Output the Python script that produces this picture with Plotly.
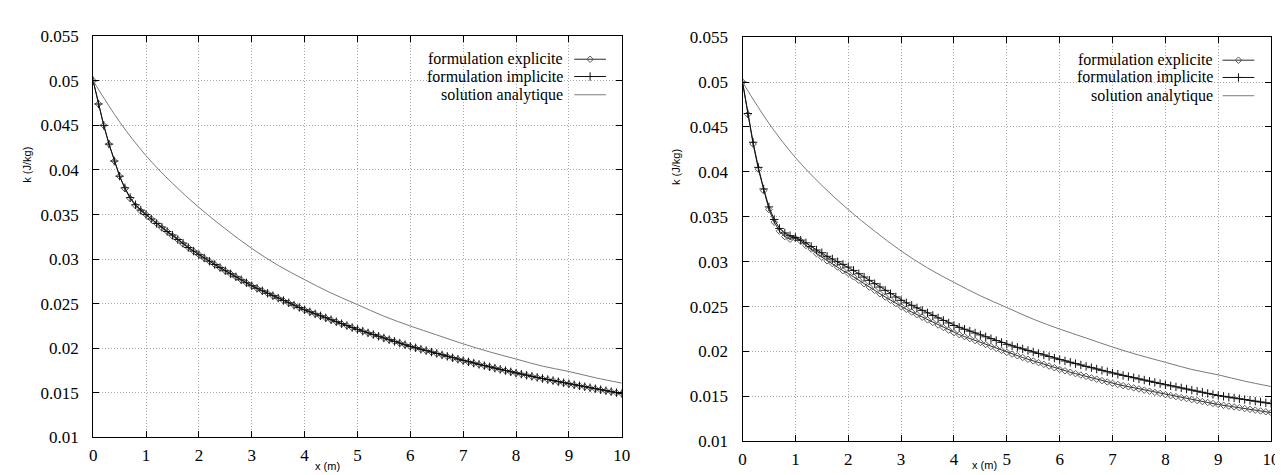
import plotly.graph_objects as go

# ---------------- data ----------------
x_num = [i / 10 for i in range(101)]
x_ana = [i / 2 for i in range(21)]

left_explicit = [
    0.0500, 0.0474, 0.0450, 0.0429, 0.0410, 0.0393, 0.0379, 0.0368, 0.0360, 0.0354,
    0.0350, 0.0345, 0.0340, 0.0335, 0.0331, 0.0326, 0.0322, 0.0317, 0.0313, 0.0309,
    0.0305, 0.03012, 0.02975, 0.02939, 0.02904, 0.02869, 0.02835, 0.02801, 0.02767, 0.02734,
    0.02700, 0.02671, 0.02643, 0.02615, 0.02588, 0.02561, 0.02534, 0.02508, 0.02482, 0.02456,
    0.02430, 0.02407, 0.02384, 0.02362, 0.02340, 0.02318, 0.02296, 0.02274, 0.02253, 0.02231,
    0.02210, 0.02190, 0.02171, 0.02152, 0.02133, 0.02114, 0.02095, 0.02076, 0.02057, 0.02038,
    0.02020, 0.02004, 0.01988, 0.01972, 0.01956, 0.01940, 0.01924, 0.01908, 0.01892, 0.01876,
    0.01860, 0.01846, 0.01832, 0.01818, 0.01804, 0.01790, 0.01776, 0.01762, 0.01748, 0.01734,
    0.01720, 0.01708, 0.01696, 0.01684, 0.01672, 0.01660, 0.01648, 0.01636, 0.01624, 0.01612,
    0.01600, 0.01589, 0.01578, 0.01567, 0.01556, 0.01545, 0.01534, 0.01523, 0.01512, 0.01501,
    0.01490]

left_implicit = [
    0.0500, 0.0474, 0.0450, 0.0429, 0.0410, 0.0393, 0.0380, 0.0369, 0.0361, 0.0355,
    0.0350, 0.0345, 0.0340, 0.0336, 0.0331, 0.0327, 0.0322, 0.0318, 0.0313, 0.0309,
    0.0305, 0.03013, 0.02976, 0.02940, 0.02905, 0.02870, 0.02836, 0.02802, 0.02768, 0.02735,
    0.02702, 0.02673, 0.02645, 0.02617, 0.02590, 0.02563, 0.02536, 0.02510, 0.02484, 0.02458,
    0.02432, 0.02409, 0.02386, 0.02364, 0.02342, 0.02320, 0.02298, 0.02276, 0.02255, 0.02233,
    0.02212, 0.02192, 0.02173, 0.02154, 0.02135, 0.02116, 0.02097, 0.02078, 0.02059, 0.02040,
    0.02022, 0.02006, 0.01990, 0.01974, 0.01958, 0.01942, 0.01926, 0.01910, 0.01894, 0.01878,
    0.01862, 0.01848, 0.01834, 0.01820, 0.01806, 0.01792, 0.01778, 0.01764, 0.01750, 0.01736,
    0.01722, 0.01710, 0.01698, 0.01686, 0.01674, 0.01662, 0.01650, 0.01638, 0.01626, 0.01614,
    0.01602, 0.01591, 0.01580, 0.01569, 0.01558, 0.01547, 0.01536, 0.01525, 0.01514, 0.01503,
    0.01492]

right_explicit = [
    0.0500, 0.0464, 0.0431, 0.0403, 0.0379, 0.0358, 0.0344, 0.0334, 0.0328, 0.0325,
    0.0326, 0.0323, 0.0318, 0.0314, 0.0309, 0.0305, 0.0301, 0.0298, 0.0294, 0.0290,
    0.0287, 0.02831, 0.02793, 0.02755, 0.02717, 0.02680, 0.02643, 0.02607, 0.02571, 0.02535,
    0.02500, 0.02470, 0.02440, 0.02411, 0.02382, 0.02353, 0.02324, 0.02295, 0.02267, 0.02238,
    0.02210, 0.02188, 0.02166, 0.02144, 0.02122, 0.02100, 0.02078, 0.02056, 0.02034, 0.02012,
    0.01990, 0.01971, 0.01952, 0.01933, 0.01914, 0.01895, 0.01876, 0.01857, 0.01838, 0.01819,
    0.01800, 0.01785, 0.01769, 0.01754, 0.01738, 0.01723, 0.01707, 0.01692, 0.01676, 0.01661,
    0.01645, 0.01633, 0.01620, 0.01608, 0.01595, 0.01583, 0.01570, 0.01558, 0.01545, 0.01533,
    0.01520, 0.01509, 0.01498, 0.01487, 0.01476, 0.01465, 0.01454, 0.01443, 0.01432, 0.01421,
    0.01410, 0.01401, 0.01392, 0.01383, 0.01374, 0.01365, 0.01356, 0.01347, 0.01338, 0.01329,
    0.01320]

right_implicit = [
    0.0500, 0.0465, 0.0433, 0.0405, 0.0381, 0.0361, 0.0347, 0.0337, 0.0332, 0.0329,
    0.0327, 0.0324, 0.0321, 0.0317, 0.0313, 0.0310, 0.0306, 0.0303, 0.0300, 0.0297,
    0.0294, 0.02903, 0.02866, 0.02829, 0.02792, 0.02755, 0.02718, 0.02681, 0.02644, 0.02607,
    0.02570, 0.02542, 0.02514, 0.02486, 0.02458, 0.02430, 0.02402, 0.02374, 0.02346, 0.02318,
    0.02290, 0.02269, 0.02248, 0.02227, 0.02206, 0.02185, 0.02164, 0.02143, 0.02122, 0.02101,
    0.02080, 0.02063, 0.02046, 0.02029, 0.02012, 0.01995, 0.01978, 0.01961, 0.01944, 0.01927,
    0.01910, 0.01895, 0.01880, 0.01865, 0.01850, 0.01835, 0.01820, 0.01805, 0.01790, 0.01775,
    0.01760, 0.01747, 0.01734, 0.01721, 0.01708, 0.01695, 0.01682, 0.01669, 0.01656, 0.01643,
    0.01630, 0.01618, 0.01606, 0.01594, 0.01582, 0.01570, 0.01558, 0.01546, 0.01534, 0.01522,
    0.01510, 0.01501, 0.01492, 0.01483, 0.01474, 0.01465, 0.01456, 0.01447, 0.01438, 0.01429,
    0.01420]

analytic = [0.0500, 0.0454, 0.0416, 0.0385, 0.0358, 0.0334, 0.0312, 0.0293, 0.0277, 0.0262,
            0.0249, 0.0236, 0.0225, 0.0215, 0.0205, 0.0196, 0.0188, 0.0180, 0.0174, 0.0167, 0.0161]

x_ticks = list(range(11))
x_ticktext = [str(v) for v in x_ticks]
y_ticks = [0.01, 0.015, 0.02, 0.025, 0.03, 0.035, 0.04, 0.045, 0.05, 0.055]
y_ticktext = ["0.01", "0.015", "0.02", "0.025", "0.03", "0.035", "0.04", "0.045", "0.05", "0.055"]

series_names = ["formulation explicite", "formulation implicite", "solution analytique"]
x_label = "x (m)"
y_label = "k (J/kg)"

# ---------------- layout constants (pixels) ----------------
W, H = 1283, 475
panels = [
    dict(x0=82, x1=616, y0=20, y1=438),
    dict(x0=738, x1=1272, y0=21, y1=442),
]
SERIF = "Liberation Serif"
SANS = "Liberation Sans"

C_EXP_LINE = "#2a2a2a"
C_EXP_MARK = "#5a5a5a"
C_IMP = "#111111"
C_ANA = "#7a7a7a"
GRID = "#a8a8a8"

EXP_MARKER = dict(symbol="diamond-open", size=5, color=C_EXP_MARK, line=dict(width=1, color=C_EXP_MARK))
IMP_MARKER = dict(symbol="cross-thin-open", size=6, color=C_IMP, line=dict(width=1, color=C_IMP))

fig = go.Figure()

datasets = [(left_explicit, left_implicit), (right_explicit, right_implicit)]
for i, (exp_vals, imp_vals) in enumerate(datasets):
    xa = "x" if i == 0 else "x2"
    ya = "y" if i == 0 else "y2"
    fig.add_trace(go.Scatter(
        x=x_num, y=exp_vals, xaxis=xa, yaxis=ya, mode="lines+markers",
        line=dict(color=C_EXP_LINE, width=1), marker=EXP_MARKER,
        showlegend=False, name=series_names[0]))
    fig.add_trace(go.Scatter(
        x=x_num, y=imp_vals, xaxis=xa, yaxis=ya, mode="lines+markers",
        line=dict(color=C_IMP, width=1), marker=IMP_MARKER,
        showlegend=False, name=series_names[1]))
    fig.add_trace(go.Scatter(
        x=x_ana, y=analytic, xaxis=xa, yaxis=ya, mode="lines",
        line=dict(color=C_ANA, width=1, shape="spline"),
        showlegend=False, name=series_names[2]))

# legend samples on an overlay pixel axis (gnuplot style: text then sample)
legend_specs = [
    dict(text_right=559, line_x0=568, line_x1=600, rows=[44, 62, 81]),
    dict(text_right=1215, line_x0=1223, line_x1=1255, rows=[45, 63, 82]),
]
annotations = []
for spec in legend_specs:
    xm = (spec["line_x0"] + spec["line_x1"]) / 2
    styles = [
        (dict(color=C_EXP_LINE, width=1), EXP_MARKER),
        (dict(color=C_IMP, width=1), IMP_MARKER),
        (dict(color=C_ANA, width=1), None),
    ]
    for name, yrow, (ln, mk) in zip(series_names, spec["rows"], styles):
        fig.add_trace(go.Scatter(
            x=[spec["line_x0"], spec["line_x1"]], y=[yrow, yrow],
            xaxis="x3", yaxis="y3", mode="lines", line=ln,
            showlegend=False, hoverinfo="skip"))
        if mk is not None:
            fig.add_trace(go.Scatter(
                x=[xm], y=[yrow], xaxis="x3", yaxis="y3", mode="markers", marker=mk,
                showlegend=False, hoverinfo="skip"))
        annotations.append(dict(
            x=spec["text_right"] / W, y=1 - yrow / H, xref="paper", yref="paper",
            text=name, showarrow=False, xanchor="right", yanchor="middle",
            font=dict(family=SERIF, size=16, color="black")))

# axis labels
for (kx, ky), (xx, xy) in zip([(15, 154), (671, 156)], [(319, 468), (982, 467)]):
    annotations.append(dict(x=kx / W, y=1 - ky / H, xref="paper", yref="paper", text=y_label,
                            showarrow=False, textangle=-90, xanchor="center", yanchor="middle",
                            font=dict(family=SANS, size=11, color="black")))
    annotations.append(dict(x=xx / W, y=1 - xy / H, xref="paper", yref="paper", text=x_label,
                            showarrow=False, xanchor="center", yanchor="middle",
                            font=dict(family=SANS, size=11, color="black")))


def xaxis_cfg(p):
    return dict(domain=[p["x0"] / W, p["x1"] / W], range=[0, 10], tickvals=x_ticks, ticktext=x_ticktext,
                ticks="inside", ticklen=6, tickcolor="black", showline=True, linecolor="black", linewidth=1,
                mirror="ticks", showgrid=True, gridcolor=GRID, griddash="1px,2px", gridwidth=1,
                zeroline=False, tickfont=dict(family=SERIF, size=17, color="black"), ticklabelstandoff=2)


def yaxis_cfg(p, anchor):
    return dict(domain=[1 - p["y1"] / H, 1 - p["y0"] / H], range=[0.01, 0.055], tickvals=y_ticks,
                ticktext=y_ticktext, ticks="inside", ticklen=6, tickcolor="black", showline=True,
                linecolor="black", linewidth=1, mirror="ticks", showgrid=True, gridcolor=GRID,
                griddash="1px,2px", gridwidth=1, zeroline=False, anchor=anchor,
                tickfont=dict(family=SERIF, size=17, color="black"), ticklabelstandoff=10)


fig.update_layout(
    width=W, height=H, margin=dict(l=0, r=0, t=0, b=0),
    paper_bgcolor="white", plot_bgcolor="rgba(0,0,0,0)",
    font=dict(family=SERIF, color="black"),
    xaxis=dict(**xaxis_cfg(panels[0]), anchor="y"),
    yaxis=yaxis_cfg(panels[0], "x"),
    xaxis2=dict(**xaxis_cfg(panels[1]), anchor="y2"),
    yaxis2=yaxis_cfg(panels[1], "x2"),
    xaxis3=dict(domain=[0, 1], range=[0, W], visible=False, anchor="y3", fixedrange=True),
    yaxis3=dict(domain=[0, 1], range=[H, 0], visible=False, anchor="x3", fixedrange=True),
    annotations=annotations,
    showlegend=False,
)

fig.write_html("out.html")
